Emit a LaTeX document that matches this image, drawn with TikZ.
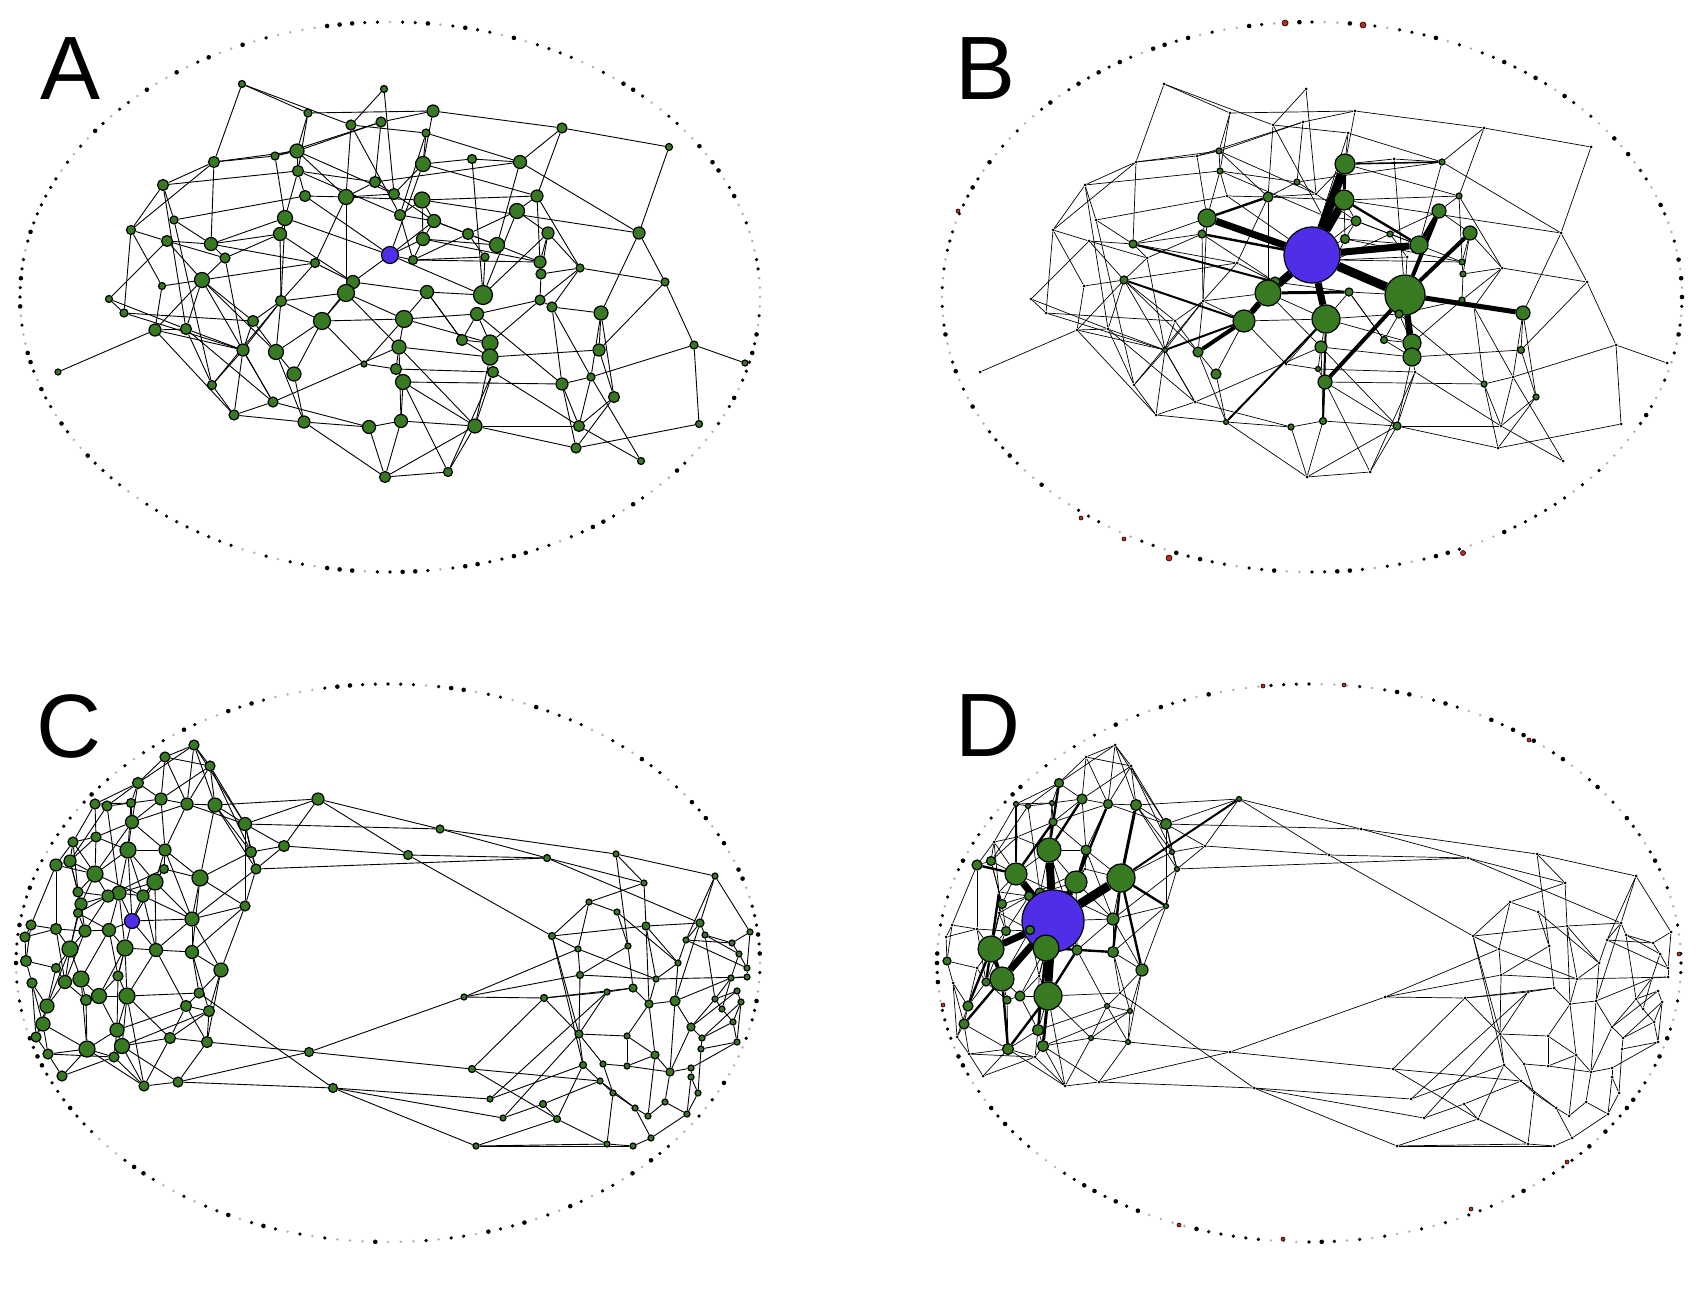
\documentclass[tikz,border=0pt]{standalone}
\usepackage{fontspec}
\newfontfamily\labfont{Liberation Sans}
\pgfdeclarelayer{bglayer}
\pgfdeclarelayer{edges}
\pgfsetlayers{bglayer,edges,main}
\definecolor{ngreen}{RGB}{56,122,34}
\definecolor{nblue}{RGB}{80,46,232}
\definecolor{dred}{RGB}{200,40,30}
\tikzset{
  gn/.style={circle,draw=black,line width=0.6pt,fill=ngreen,inner sep=0pt},
  bn/.style={circle,draw=black,line width=0.6pt,fill=nblue,inner sep=0pt},
  tn/.style={circle,fill=black,inner sep=0pt,minimum size=1.5pt},
  bdot/.style={circle,fill=black,inner sep=0pt,minimum size=1.8pt},
  bigdot/.style={circle,fill=black,inner sep=0pt,minimum size=2.3pt},
  gdot/.style={circle,fill=black!30,inner sep=0pt,minimum size=1.4pt},
  rdot/.style={circle,draw=black,line width=0.3pt,fill=dred,inner sep=0pt},
  edgeA/.style={line width=0.45pt,black},
  edgeT/.style={line width=0.35pt,black},
  lab/.style={anchor=base west,inner sep=0pt,font=\labfont\fontsize{45}{45}\selectfont}
}
% ---------------- graph 1 (panels A and B) ----------------
\def\Anodes{1/242/84/3.5, 2/384/89/3.5, 3/308/113/4, 4/351/125/5, 5/381/122/5, 6/433/111/6, 7/426/133/4, 8/562/128/5, 9/669/147/3.5, 10/297/151/7, 11/275/156/4, 12/298/171/5.5, 13/214/162/5.5, 14/163/185/5.5, 15/375/182/5.5, 16/346/197/7.5, 17/394/194/5.5, 18/305/196/5.5, 19/400/215/5.5, 20/423/164/7.5, 21/472/159/4.5, 22/520/162/6.5, 23/422/200/8, 24/537/196/6, 25/517/211/7.5, 26/434/221/6.5, 27/548/233/6, 28/639/233/6, 29/423/239/6.5, 30/468/234/5.5, 31/497/245/7.5, 32/485/257/4, 33/413/260/4.5, 34/540/262/6, 35/541/274/5, 36/580/268/4, 37/665/282/4, 38/285/218/7.5, 39/280/234/6.5, 40/174/220/4, 41/131/230/4.5, 42/167/241/5.5, 43/211/244/6.5, 44/225/258/5, 45/390/255/8.5, 46/315/263/4.5, 47/202/280/7.5, 48/162/286/3.5, 49/353/282/6.5, 50/346/293/8.5, 51/109/299/3.5, 52/281/301/5.5, 53/427/292/6.5, 54/483/295/9.5, 55/540/300/5, 56/552/307/5, 57/601/313/7, 58/124/313/4, 59/155/330/6, 60/186/329/5.5, 61/253/321/5.5, 62/322/321/8.5, 63/404/319/8.5, 64/477/314/6.5, 65/58/372/3, 66/243/350/6, 67/276/352/7.5, 68/294/374/7, 69/212/385/4.5, 70/273/402/5, 71/234/415/5, 72/304/422/6, 73/369/427/6.5, 74/401/421/6.5, 75/385/477/5.5, 76/399/347/7, 77/396/369/5.5, 78/403/382/7.5, 79/364/364/3, 80/462/340/5.5, 81/490/343/8, 82/490/357/8, 83/493/372/5.5, 84/599/350/6, 85/694/345/4, 86/745/363/3, 87/562/384/6, 88/591/377/4, 89/614/397/5.5, 90/475/426/7, 91/579/426/5.5, 92/576/448/5, 93/699/424/3.5, 94/641/461/3.5, 95/448/472/4.5}
\def\Aedges{1/4, 1/13, 1/3, 2/4, 2/17, 3/10, 3/6, 4/16, 4/19, 4/7, 5/15, 5/10, 5/6, 11/5, 13/11, 11/10, 13/43, 13/41, 14/12, 14/41, 14/60, 14/40, 40/18, 40/69, 41/42, 41/58, 42/43, 42/51, 42/47, 43/38, 43/46, 44/39, 44/47, 47/46, 48/47, 48/59, 38/45, 39/52, 39/49, 12/38, 12/19, 10/12, 10/17, 18/16, 18/45, 16/50, 16/17, 45/49, 46/16, 6/8, 8/9, 8/22, 8/24, 9/28, 6/20, 7/22, 7/19, 7/20, 20/21, 21/22, 21/54, 20/24, 22/31, 22/28, 23/24, 23/28, 24/34, 24/36, 25/30, 25/54, 27/54, 27/35, 28/37, 28/57, 36/37, 29/34, 33/34, 45/54, 53/54, 31/30, 31/29, 17/20, 19/23, 23/29, 26/31, 26/45, 29/45, 30/32, 32/33, 25/27, 25/24, 34/35, 35/55, 15/22, 65/59, 51/60, 58/61, 58/66, 59/66, 59/71, 59/47, 60/47, 60/70, 47/67, 66/69, 66/71, 66/70, 66/52, 67/62, 67/68, 67/72, 69/52, 71/72, 70/73, 70/76, 72/75, 72/73, 73/75, 62/50, 62/68, 62/63, 79/77, 74/78, 75/74, 61/52, 68/72, 63/50, 63/76, 76/77, 77/78, 73/74, 51/58, 50/49, 63/64, 56/57, 57/84, 57/88, 84/37, 82/84, 37/85, 85/88, 85/86, 85/93, 93/92, 92/89, 92/87, 92/90, 90/91, 90/95, 90/83, 91/89, 91/88, 91/83, 94/91, 94/88, 87/88, 87/56, 74/90, 78/95, 78/87, 75/90, 77/83, 81/63, 80/82, 76/82, 76/90, 81/55, 82/90, 64/81, 55/56, 36/56, 27/36, 53/63, 38/39, 15/16, 15/17, 19/26, 26/29, 33/45, 46/49, 52/62, 52/50, 61/66, 44/43, 13/10, 18/12, 38/52, 35/36, 49/53, 80/53, 64/87, 82/83, 70/71, 69/71, 60/69, 45/20, 3/12, 10/16, 11/38, 12/15, 14/13, 40/43, 41/48, 42/44, 43/39, 44/66, 46/52, 47/61, 47/70, 52/67, 59/60, 60/66, 61/67, 62/79, 63/79, 76/74, 50/76, 49/62, 16/23, 17/26, 19/33, 23/26, 26/30, 29/33, 30/33, 32/54, 31/34, 27/34, 36/55, 55/64, 56/88, 57/89, 84/89, 87/91, 83/95, 80/81, 53/80, 64/80, 78/90, 75/95}
\def\Bthick{45/20/4.5, 45/23/4, 45/38/3.5, 45/50/4, 50/62/3, 62/67/2, 45/63/3.5, 45/54/4.5, 45/31/3.5, 54/57/2.5, 54/82/3, 54/81/2.5, 54/78/2, 54/25/2, 27/54/2, 31/25/2, 43/49/1, 47/62/1, 72/63/1, 50/53/1.5, 23/31/1.2, 20/22/0.8, 45/39/1.2, 38/16/1.2, 63/74/1, 66/62/1, 20/23/1.5}
\foreach \i/\r in {45/28, 20/10, 23/10, 38/9, 39/4, 16/5, 15/3, 10/3, 12/3, 26/5, 29/4.5, 25/7, 27/7, 31/9, 22/3, 24/3, 30/3, 43/4, 47/4, 50/13, 49/5, 62/11, 63/14, 53/4, 76/6, 67/5, 68/5, 78/7, 77/2.5, 81/9, 82/9, 64/4, 80/3.5, 34/3, 35/3, 55/3, 57/7, 84/3.5, 87/3, 89/3, 74/3.5, 73/3, 90/4, 54/20, 33/2, 66/2.5, 72/2.5}{\expandafter\xdef\csname Bs\i\endcsname{\r}}
% ---------------- graph 2 (panels C and D) ----------------
\def\Cnodes{1/194/745/5, 2/165/757/5, 3/210/766/5, 4/138/783/5.5, 5/95/804/5, 6/107/806/5, 7/131/803/4.5, 8/161/799/6, 9/187/804/6, 10/215/805/7, 11/318/799/6, 12/132/822/6.5, 13/245/824/6.5, 14/96/837/5, 15/73/842/5, 16/128/850/8, 17/165/850/6, 18/284/846/5.5, 19/251/852/5.5, 20/256/869/5, 21/56/865/6, 22/70/861/6, 23/164/869/4.5, 24/95/874/8, 25/200/878/8, 26/155/882/8, 27/78/892/5, 28/119/893/7, 29/108/896/6, 30/143/896/6, 31/81/904/6, 32/78/913/4.5, 33/245/906/5, 34/132/921/7.5, 35/192/919/7, 36/31/925/5, 37/25/937/5, 38/56/929/5.5, 39/85/931/6, 40/109/930/6.5, 41/70/949/8, 42/125/948/8, 43/156/950/6.5, 44/192/952/6.5, 45/26/961/5.5, 46/56/968/4.5, 47/221/970/7, 48/32/983/5, 49/65/982/6.5, 50/81/979/8, 51/118/976/5, 52/199/993/5, 53/47/1006/7, 54/86/1000/5.5, 55/99/996/7.5, 56/127/996/8, 57/186/1006/5.5, 58/209/1011/5.5, 59/43/1024/7, 60/117/1030/7, 61/36/1037/5, 62/170/1038/5.5, 63/207/1042/5.5, 64/87/1049/8, 65/122/1046/7.5, 66/48/1054/5, 67/114/1057/5, 68/309/1052/4.5, 69/62/1076/5, 70/144/1086/5, 71/178/1082/5, 72/333/1088/4.5, 73/440/829/4, 74/408/855/4.5, 75/547/858/3.5, 76/464/997/3, 77/472/1069/3.5, 78/476/1146/3, 79/616/854/3, 80/715/876/3, 81/644/883/3, 82/589/902/3, 83/617/912/3, 84/646/926/4, 85/700/923/4, 86/552/936/3.5, 87/705/935/3, 88/686/940/3, 89/732/943/3, 90/628/946/3, 91/578/949/3, 92/739/954/3, 93/750/932/3, 94/678/963/3, 95/747/968/3, 96/747/977/3, 97/731/978/3, 98/580/975/3.5, 99/656/979/3, 100/633/988/4, 101/607/992/3, 102/675/1001/5, 103/649/1004/4, 104/715/999/3, 105/737/991/3, 106/741/1002/3, 107/722/1009/3, 108/544/998/3.5, 109/733/1022/3, 110/691/1027/4, 111/579/1034/4, 112/627/1036/3, 113/702/1038/3, 114/701/1049/3, 115/737/1042/3, 116/655/1055/4, 117/583/1065/3.5, 118/603/1064/3, 119/627/1066/3, 120/600/1081/3, 121/670/1072/4, 122/691/1068/3, 123/691/1077/3, 124/613/1093/3, 125/698/1093/3, 126/543/1104/3.5, 127/557/1119/3.5, 128/635/1108/3, 129/648/1116/3, 130/665/1102/3, 131/687/1114/3, 132/607/1144/3, 133/633/1146/3, 134/651/1138/3, 135/490/1099/3, 136/503/1118/3}
\def\Cedges{1/2, 1/10, 1/3, 2/4, 2/9, 3/8, 3/13, 4/12, 4/6, 4/7, 5/6, 6/7, 7/8, 8/9, 9/10, 10/11, 5/15, 5/14, 6/28, 7/16, 7/12, 8/17, 9/17, 10/25, 10/19, 10/20, 11/13, 11/73, 11/74, 12/14, 12/16, 12/9, 13/18, 13/19, 13/73, 14/22, 14/24, 15/21, 15/22, 16/24, 16/26, 16/34, 16/28, 17/26, 17/35, 18/74, 18/19, 19/20, 19/25, 20/33, 20/35, 21/36, 21/38, 22/27, 22/31, 23/25, 23/29, 23/26, 24/30, 24/29, 25/35, 25/44, 26/34, 26/43, 27/29, 27/31, 28/30, 28/40, 29/32, 30/35, 31/39, 32/41, 33/47, 33/44, 34/40, 34/42, 34/35, 34/43, 35/44, 36/37, 36/38, 37/45, 38/39, 38/49, 39/40, 39/41, 40/42, 41/49, 41/50, 41/46, 42/56, 42/51, 42/43, 43/44, 43/57, 44/47, 44/52, 45/48, 45/46, 46/53, 47/58, 47/63, 48/59, 49/50, 49/54, 50/55, 50/64, 51/55, 51/56, 52/56, 52/72, 53/59, 53/41, 54/55, 54/64, 55/56, 56/60, 56/65, 57/60, 57/62, 58/65, 58/63, 59/61, 59/64, 60/65, 60/67, 61/66, 62/63, 62/65, 63/68, 64/66, 64/69, 64/70, 65/67, 65/71, 66/69, 67/70, 68/71, 68/76, 68/77, 70/71, 70/56, 71/72, 72/135, 72/136, 72/78, 4/5, 14/15, 15/27, 21/22, 26/30, 26/28, 17/23, 12/24, 6/22, 37/38, 29/39, 2/8, 3/9, 1/4, 13/33, 16/30, 24/31, 28/42, 30/34, 35/47, 36/45, 48/53, 32/39, 40/51, 57/58, 51/60, 1/9, 2/3, 3/10, 4/8, 5/7, 8/12, 9/13, 10/13, 12/17, 14/16, 15/24, 16/17, 17/25, 18/20, 21/24, 22/24, 23/30, 24/27, 25/33, 26/35, 27/32, 28/34, 29/31, 30/43, 31/41, 32/40, 33/35, 35/43, 38/41, 39/49, 40/50, 42/55, 43/56, 44/58, 46/49, 47/52, 48/61, 49/53, 50/54, 51/42, 52/57, 53/61, 55/60, 56/62, 57/63, 58/62, 59/66, 60/64, 62/70, 63/71, 64/67, 65/70, 66/67, 67/69, 13/20, 11/18, 3/19, 1/13, 20/75, 73/75, 73/79, 74/75, 74/86, 79/80, 79/90, 75/81, 75/85, 80/85, 80/88, 80/93, 81/82, 81/84, 82/86, 82/83, 83/90, 83/94, 84/85, 84/86, 84/103, 84/99, 84/94, 85/87, 85/88, 85/102, 87/89, 87/104, 86/91, 86/111, 88/94, 88/89, 88/95, 89/92, 89/93, 91/99, 98/99, 98/90, 98/111, 90/100, 100/103, 100/108, 101/108, 101/111, 100/101, 102/103, 102/110, 102/94, 102/121, 103/112, 103/116, 104/105, 104/107, 104/110, 105/106, 106/109, 107/109, 95/96, 95/92, 96/97, 97/104, 93/95, 92/87, 92/97, 111/117, 111/118, 111/112, 112/119, 112/116, 116/121, 116/119, 117/120, 117/127, 118/119, 118/124, 119/121, 120/124, 120/128, 121/122, 122/123, 123/125, 125/131, 124/128, 126/127, 127/132, 128/129, 129/130, 130/131, 130/121, 132/133, 133/134, 134/131, 78/127, 78/132, 78/133, 76/91, 76/98, 76/108, 77/108, 77/127, 77/120, 86/117, 135/117, 135/101, 136/111, 136/126, 108/111, 110/113, 110/121, 113/114, 114/115, 113/109, 115/109, 122/115, 125/114, 110/105, 113/106, 99/96, 102/97, 94/99, 91/98, 82/91, 79/81, 97/107, 106/115, 99/103, 120/126, 128/134, 124/132, 129/116, 123/131}
\def\Dthick{34/16/4, 34/24/3.5, 34/26/3.5, 34/25/4.5, 34/41/3.5, 34/42/4, 34/50/3.5, 34/56/3.5, 42/56/3, 41/50/2, 25/47/1.2, 16/8/1.2, 24/21/1.2, 41/53/1.2, 56/64/1.2, 56/65/1.5, 26/9/1.2, 25/10/1.5, 25/11/1, 42/60/1.2, 50/59/1.2, 16/4/1.2, 24/5/1, 41/27/1.2, 41/49/1.2, 56/43/1.2, 50/64/1.2, 25/33/1.2, 25/44/1.2, 24/12/1.2, 42/44/1.2, 26/17/1.2}
\foreach \i/\r in {34/31, 16/12, 24/11, 26/11, 25/14, 41/13, 42/13, 50/12, 56/14, 28/5, 29/4.5, 30/4.5, 40/4.5, 43/5, 35/6, 44/5.5, 47/6, 17/5, 13/5.5, 10/5.5, 9/4.5, 8/5, 4/4.5, 12/4, 21/5, 22/4.5, 31/4.5, 39/4.5, 49/4, 54/4, 55/5, 53/5, 59/5, 60/5.5, 65/5.5, 64/5.5, 45/4, 57/2.5, 58/2.5, 62/2.5, 63/2.5, 19/2.5, 20/2.5, 33/2.5, 5/2.5, 6/2.5, 7/2.5, 11/2.5}{\expandafter\xdef\csname Ds\i\endcsname{\r}}
% ring of isolated vertices: prefix, cx, cy, rx, ry, seed
\newcommand\ringdots[6]{%
  \pgfmathsetseed{#6}%
  \foreach \k in {0,...,183} {%
    \pgfmathsetmacro\angt{\k*1.956522}%
    \pgfmathsetmacro\qq{rnd}%
    \ifdim\qq pt<0.2pt
      \node[bigdot] (#1\k) at ({#2+#4*cos(\angt)},{#3+#5*sin(\angt)}) {};
    \else\ifdim\qq pt<0.62pt
      \node[bdot] (#1\k) at ({#2+#4*cos(\angt)},{#3+#5*sin(\angt)}) {};
    \else
      \node[gdot] (#1\k) at ({#2+#4*cos(\angt)},{#3+#5*sin(\angt)}) {};
    \fi\fi
  }%
}
\begin{document}
\begin{tikzpicture}[x=0.5pt,y=-0.5pt]
\useasboundingbox (0,0) rectangle (1700,1300);
\begin{pgfonlayer}{bglayer}
\fill[white] (0,0) rectangle (1700,1300);
\end{pgfonlayer}
% ================= Panel A =================
\node[lab] (labA) at (40,100) {A};
\ringdots{Ad}{390}{297}{370}{275}{11}
\foreach \i/\x/\y/\r in \Anodes {
  \ifnum\i=45
    \node[bn,minimum size=\r pt] (A\i) at (\x,\y) {};
  \else
    \node[gn,minimum size=\r pt] (A\i) at (\x,\y) {};
  \fi
}
\begin{pgfonlayer}{edges}
\foreach \a/\b in \Aedges {\draw[edgeA] (A\a) -- (A\b);}
\end{pgfonlayer}
% ================= Panel B =================
\node[lab] (labB) at (955,100) {B};
\begin{scope}[shift={(922,0)}]
\ringdots{Bd}{390}{297}{370}{275}{23}
\foreach \i/\x/\y/\r in \Anodes {
  \ifcsname Bs\i\endcsname
    \edef\rr{\csname Bs\i\endcsname}
    \ifnum\i=45
      \node[bn,minimum size=\rr pt] (B\i) at (\x,\y) {};
    \else
      \node[gn,minimum size=\rr pt] (B\i) at (\x,\y) {};
    \fi
  \else
    \node[tn] (B\i) at (\x,\y) {};
  \fi
}
\begin{pgfonlayer}{edges}
\foreach \a/\b in \Aedges {\draw[edgeT] (B\a) -- (B\b);}
\foreach \a/\b/\w in \Bthick {\draw[line width=\w pt] (B\a) -- (B\b);}
\end{pgfonlayer}
\end{scope}
\node[rdot,minimum size=3pt] (Br1) at (1285,23) {};
\node[rdot,minimum size=3pt] (Br2) at (1363,25) {};
\node[rdot,minimum size=3pt] (Br3) at (1169,558) {};
\node[rdot,minimum size=2.5pt] (Br4) at (1463,553) {};
\node[rdot,minimum size=2pt] (Br5) at (958,211) {};
\node[rdot,minimum size=2pt] (Br6) at (1081,518) {};
\node[rdot,minimum size=2pt] (Br7) at (1124,539) {};
% ================= Panel C =================
\node[lab] (labC) at (36,757) {C};
\ringdots{Cd}{388}{963}{372}{279}{37}
\foreach \i/\x/\y/\r in \Cnodes {
  \ifnum\i=34
    \node[bn,minimum size=\r pt] (C\i) at (\x,\y) {};
  \else
    \node[gn,minimum size=\r pt] (C\i) at (\x,\y) {};
  \fi
}
\begin{pgfonlayer}{edges}
\foreach \a/\b in \Cedges {\draw[edgeA] (C\a) -- (C\b);}
\end{pgfonlayer}
% ================= Panel D =================
\node[lab] (labD) at (955,756) {D};
\begin{scope}[shift={(921,0)}]
\ringdots{Dd}{388}{963}{372}{279}{41}
\foreach \i/\x/\y/\r in \Cnodes {
  \ifcsname Ds\i\endcsname
    \edef\rr{\csname Ds\i\endcsname}
    \ifnum\i=34
      \node[bn,minimum size=\rr pt] (D\i) at (\x,\y) {};
    \else
      \node[gn,minimum size=\rr pt] (D\i) at (\x,\y) {};
    \fi
  \else
    \node[tn] (D\i) at (\x,\y) {};
  \fi
}
\begin{pgfonlayer}{edges}
\foreach \a/\b in \Cedges {\draw[edgeT] (D\a) -- (D\b);}
\foreach \a/\b/\w in \Dthick {\draw[line width=\w pt] (D\a) -- (D\b);}
\end{pgfonlayer}
\end{scope}
\node[rdot,minimum size=2pt] (Dr1) at (1263,686) {};
\node[rdot,minimum size=2pt] (Dr2) at (1344,685) {};
\node[rdot,minimum size=2pt] (Dr3) at (1529,740) {};
\node[rdot,minimum size=2pt] (Dr4) at (1679,954) {};
\node[rdot,minimum size=2pt] (Dr5) at (1567,1162) {};
\node[rdot,minimum size=2pt] (Dr6) at (1471,1209) {};
\node[rdot,minimum size=2pt] (Dr7) at (1283,1239) {};
\node[rdot,minimum size=2pt] (Dr8) at (1179,1225) {};
\node[rdot,minimum size=2pt] (Dr9) at (943,1005) {};
\end{tikzpicture}
\end{document}
